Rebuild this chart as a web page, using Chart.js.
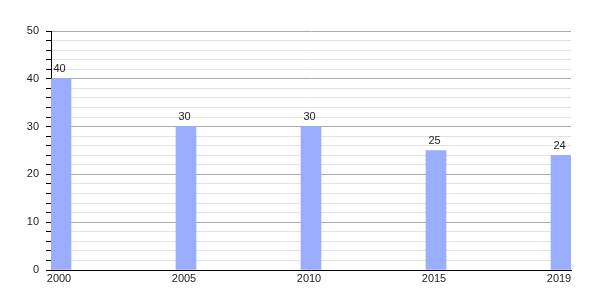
<!DOCTYPE html>
<html>
<head>
<meta charset="utf-8">
<script src="https://cdn.jsdelivr.net/npm/chart.js@4"></script>
<style>
  html, body { margin: 0; padding: 0; background: #fff; }
  #wrap { width: 600px; height: 300px; }
</style>
</head>
<body>
<div id="wrap"><canvas id="chart"></canvas></div>
<script>
// Chart data
const years = ['2000', '2005', '2010', '2015', '2019'];
const values = [40, 30, 30, 25, 24];
const yTicks = [0, 10, 20, 30, 40, 50];

// Simple value labels above bars
const barLabels = {
  id: 'barLabels',
  afterDatasetsDraw(chart) {
    const ctx = chart.ctx;
    const meta = chart.getDatasetMeta(0);
    ctx.save();
    ctx.font = '11px "Liberation Sans", Arial, sans-serif';
    ctx.fillStyle = '#222';
    ctx.textAlign = 'center';
    ctx.textBaseline = 'bottom';
    meta.data.forEach((bar, i) => {
      ctx.fillText(values[i], bar.x - 1.5, bar.y - 4);
    });
    ctx.restore();
  }
};

const ctx = document.getElementById('chart').getContext('2d');
new Chart(ctx, {
  type: 'bar',
  data: {
    datasets: [{
      data: values.map((v, i) => ({ x: i, y: v })),
      backgroundColor: '#9aadff',
      borderWidth: 0,
      barThickness: 20
    }]
  },
  options: {
    responsive: true,
    maintainAspectRatio: false,
    animation: false,
    layout: { padding: { top: 31, right: 29, left: 0, bottom: 0 } },
    plugins: {
      legend: { display: false },
      tooltip: { enabled: false }
    },
    scales: {
      x: {
        type: 'linear',
        offset: false,
        min: -0.08,
        max: 4.08,
        afterBuildTicks: s => { s.ticks = years.map((y, i) => ({ value: i })); },
        afterFit: s => { s.height = 30; },
        grid: { display: false, drawTicks: false },
        border: { color: '#000', width: 1 },
        ticks: {
          autoSkip: false,
          maxRotation: 0,
          padding: 2,
          labelOffset: -2,
          color: '#222',
          font: { family: '"Liberation Sans", Arial, sans-serif', size: 11 },
          callback: v => years[v]
        }
      },
      y: {
        min: yTicks[0],
        max: yTicks[yTicks.length - 1],
        afterFit: s => { s.width = 51; },
        border: { color: '#000', width: 1 },
        grid: {
          color: c => (c.tick.value % 10 === 0 ? '#aaaaaa' : '#e2e2e2'),
          tickColor: '#000',
          tickLength: 5
        },
        ticks: {
          stepSize: 2,
          maxTicksLimit: 40,
          autoSkip: false,
          padding: 7,
          color: '#222',
          font: { family: '"Liberation Sans", Arial, sans-serif', size: 11 },
          callback: v => (yTicks.includes(v) ? v : '')
        }
      }
    }
  },
  plugins: [barLabels]
});
</script>
</body>
</html>
